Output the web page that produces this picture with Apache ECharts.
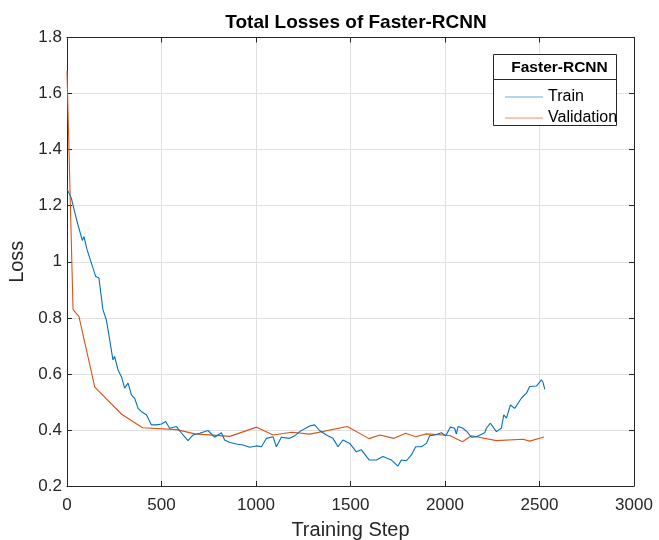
<!DOCTYPE html>
<html>
<head>
<meta charset="utf-8">
<script src="https://cdn.jsdelivr.net/npm/echarts@6/dist/echarts.min.js"></script>
<style>html,body{margin:0;padding:0;background:#fff;}#c{width:659px;height:540px;}</style>
</head>
<body>
<div id="c"></div>
<script>
var trainSteps = [0,23,41,58,81,90,106,129,152,169,190,208,226,243,252,270,288,305,323,341,358,376,394,420,447,473,500,522,543,579,614,640,667,702,746,781,817,834,861,896,931,967,1002,1029,1055,1090,1108,1134,1178,1205,1231,1284,1310,1337,1372,1407,1434,1460,1496,1531,1558,1598,1637,1672,1716,1751,1769,1796,1822,1845,1875,1902,1919,1946,1981,2004,2028,2051,2060,2069,2095,2116,2140,2166,2210,2219,2240,2272,2298,2311,2325,2346,2369,2404,2431,2448,2484,2497,2510,2519,2528];
var trainLoss = [1.26,1.227,1.176,1.132,1.076,1.09,1.043,0.995,0.947,0.942,0.829,0.793,0.721,0.65,0.662,0.614,0.59,0.549,0.567,0.525,0.513,0.477,0.465,0.454,0.418,0.418,0.421,0.43,0.406,0.412,0.382,0.362,0.382,0.388,0.398,0.374,0.39,0.364,0.355,0.35,0.346,0.338,0.343,0.34,0.37,0.376,0.34,0.374,0.37,0.379,0.394,0.414,0.418,0.398,0.382,0.37,0.34,0.364,0.352,0.322,0.329,0.293,0.293,0.305,0.293,0.271,0.293,0.29,0.311,0.34,0.34,0.352,0.379,0.382,0.39,0.379,0.41,0.406,0.385,0.412,0.406,0.394,0.374,0.376,0.39,0.406,0.424,0.394,0.406,0.454,0.442,0.489,0.477,0.513,0.531,0.555,0.557,0.567,0.579,0.569,0.545];
var valSteps = [0,32,63,147,289,400,580,677,862,1003,1091,1188,1285,1483,1598,1655,1730,1792,1845,1902,2025,2092,2140,2272,2413,2448,2524];
var valLoss = [1.68,0.829,0.805,0.553,0.456,0.408,0.401,0.386,0.377,0.41,0.382,0.392,0.385,0.412,0.369,0.382,0.370,0.388,0.376,0.386,0.38,0.358,0.379,0.362,0.367,0.36,0.375];
var xTicks = {min:0, max:3000, interval:500};
var yTicks = {min:0.2, max:1.8, interval:0.2};
var titleText = 'Total Losses of Faster-RCNN';
var legendTitle = 'Faster-RCNN';
var seriesNames = ['Train','Validation'];

function zip(a,b){var r=[];for(var i=0;i<a.length;i++)r.push([a[i],b[i]]);return r;}
var FONT = '"Liberation Sans", Arial, Helvetica, sans-serif';
var AX = '#262626';
var BLUE = '#0072BD', ORANGE = '#D95319';
var chart = echarts.init(document.getElementById('c'), null, {renderer:'canvas'});
var fmtY = function(v){return String(Math.round(v*10)/10);};
var fmtX = function(v){return String(Math.round(v));};
var baseX = {type:'value', min:xTicks.min, max:xTicks.max, interval:xTicks.interval};
var baseY = {type:'value', min:yTicks.min, max:yTicks.max, interval:yTicks.interval};
chart.setOption({
  animation:false,
  backgroundColor:'#fff',
  title:{text:titleText, left:351, top:8, textAlign:'center',
    textStyle:{fontFamily:FONT, fontSize:19, fontWeight:'bold', color:'#000'}},
  grid:{left:67, right:25, top:37.5, bottom:54, containLabel:false, outerBoundsMode:'none'},
  xAxis:[
    Object.assign({}, baseX, {position:'bottom', name:'Training Step', nameLocation:'middle', nameGap:34,
      nameTextStyle:{fontFamily:FONT, fontSize:20, color:AX},
      axisLine:{show:true, onZero:false, lineStyle:{color:AX, width:1}},
      axisTick:{show:true, inside:true, length:5, lineStyle:{color:AX}},
      axisLabel:{fontFamily:FONT, fontSize:17, color:AX, margin:11, formatter:fmtX},
      splitLine:{show:true, lineStyle:{color:'#e0e0e0', width:1}}}),
    Object.assign({}, baseX, {position:'top',
      axisLine:{show:true, onZero:false, lineStyle:{color:AX, width:1}},
      axisTick:{show:true, inside:true, length:5, lineStyle:{color:AX}},
      axisLabel:{show:false}, splitLine:{show:false}})
  ],
  yAxis:[
    Object.assign({}, baseY, {position:'left', name:'Loss', nameLocation:'middle', nameGap:37, nameRotate:90,
      nameTextStyle:{fontFamily:FONT, fontSize:20, color:AX},
      axisLine:{show:true, onZero:false, lineStyle:{color:AX, width:1}},
      axisTick:{show:true, inside:true, length:5, lineStyle:{color:AX}},
      axisLabel:{fontFamily:FONT, fontSize:17, color:AX, margin:5, formatter:fmtY},
      splitLine:{show:true, lineStyle:{color:'#e0e0e0', width:1}}}),
    Object.assign({}, baseY, {position:'right',
      axisLine:{show:true, onZero:false, lineStyle:{color:AX, width:1}},
      axisTick:{show:true, inside:true, length:5, lineStyle:{color:AX}},
      axisLabel:{show:false}, splitLine:{show:false}})
  ],
  legend:{show:true, orient:'vertical', left:500, top:81.5, itemGap:0, itemWidth:38, itemHeight:1.2,
    icon:'rect', z:20,
    data:[{name:seriesNames[0], itemStyle:{color:'#6fa9dc'}}, {name:seriesNames[1], itemStyle:{color:'#ee8f66'}}],
    textStyle:{fontFamily:FONT, fontSize:16, color:'#000', lineHeight:21}},
  graphic:[
    {type:'rect', z:10, shape:{x:493.5, y:54.5, width:123, height:71},
      style:{fill:'#fff', stroke:AX, lineWidth:1}},
    {type:'line', z:11, shape:{x1:493.5, y1:79.5, x2:616.5, y2:79.5},
      style:{stroke:AX, lineWidth:1}},
    {type:'text', z:11, x:559.5, y:67.5, style:{text:legendTitle, fontFamily:FONT, fontSize:15.5,
      fontWeight:'bold', fill:'#000', align:'center', verticalAlign:'middle'}}
  ],
  series:[
    {name:seriesNames[0], type:'line', xAxisIndex:0, yAxisIndex:0, data:zip(trainSteps,trainLoss),
      symbol:'none', lineStyle:{color:BLUE, width:1.1}, itemStyle:{color:BLUE}, z:3},
    {name:seriesNames[1], type:'line', xAxisIndex:0, yAxisIndex:0, data:zip(valSteps,valLoss),
      symbol:'none', lineStyle:{color:ORANGE, width:1.1}, itemStyle:{color:ORANGE}, z:2}
  ]
});
</script>
</body>
</html>
